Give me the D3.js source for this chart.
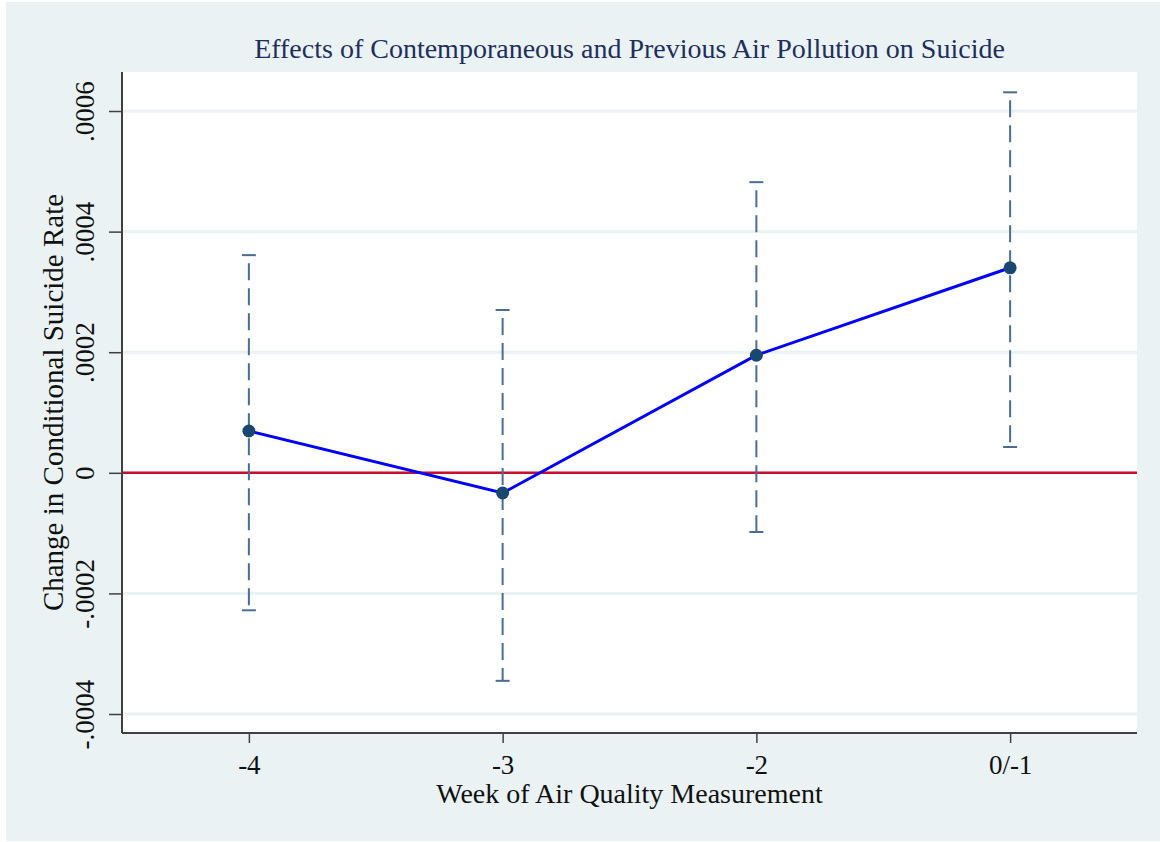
<!DOCTYPE html>
<html>
<head>
<meta charset="utf-8">
<script src="https://cdn.jsdelivr.net/npm/d3@7"></script>
<style>
  body { margin: 0; background: #fff; }
  text { font-family: "Liberation Serif", "Times New Roman", serif; }
</style>
</head>
<body>
<script>
var width = 1160;
var height = 842;

// Data.
var weeks = ['-4', '-3', '-2', '0/-1'];
var estimates = [0.0000693, -0.0000335, 0.000195, 0.00034];
var upper = [0.000361, 0.00027, 0.000482, 0.000631];
var lower = [-0.000228, -0.000345, -0.0000982, 0.0000428];
var yTicks = [-0.0004, -0.0002, 0, 0.0002, 0.0004, 0.0006];
var yTickLabels = ['-.0004', '-.0002', '0', '.0002', '.0004', '.0006'];

var margin = {top: 72, right: 23, bottom: 109, left: 122};
var plotW = width - margin.left - margin.right;
var plotH = height - margin.top - margin.bottom;

var svg = d3.select('body')
  .append('svg')
  .attr('width', width)
  .attr('height', height);

// Outer background.
svg.append('rect')
  .attr('x', 6).attr('y', 2)
  .attr('width', width - 6).attr('height', height - 3)
  .attr('fill', '#eaf2f3');

var g = svg.append('g')
  .attr('transform', 'translate(' + margin.left + ',' + margin.top + ')');

var x = d3.scaleLinear()
  .domain([-0.5, 3.5])
  .range([0, plotW]);

var y = d3.scaleLinear()
  .domain([-0.0004315, 0.0006647])
  .range([plotH, 0]);

// Plot region.
g.append('rect')
  .attr('width', plotW)
  .attr('height', plotH)
  .attr('fill', '#ffffff');

// Gridlines.
g.append('g')
  .selectAll('line')
  .data(yTicks)
  .enter().append('line')
  .attr('x1', 0).attr('x2', plotW)
  .attr('y1', function(d) { return y(d); })
  .attr('y2', function(d) { return y(d); })
  .attr('stroke', '#eaf2f3')
  .attr('stroke-width', 3);

// Zero line.
g.append('line')
  .attr('x1', 0).attr('x2', plotW)
  .attr('y1', y(0)).attr('y2', y(0))
  .attr('stroke', '#c8102e')
  .attr('stroke-width', 2.5);

// Axes.
var yAxis = d3.axisLeft(y)
  .tickValues(yTicks)
  .tickSize(13)
  .tickFormat(function(d, i) { return yTickLabels[i]; });

var xAxis = d3.axisBottom(x)
  .tickValues(d3.range(weeks.length))
  .tickSize(10)
  .tickPadding(12)
  .tickFormat(function(d) { return weeks[d]; });

var ya = g.append('g').call(yAxis);
ya.select('.domain')
  .attr('d', 'M0,0V' + plotH)
  .attr('stroke', '#404040')
  .attr('stroke-width', 2);
ya.selectAll('.tick line').attr('stroke', '#404040').attr('stroke-width', 1.5);
ya.selectAll('.tick text')
  .attr('font-size', 27)
  .attr('fill', '#111')
  .attr('font-family', '"Liberation Serif", serif')
  .attr('text-anchor', 'middle')
  .attr('dy', 0)
  .attr('transform', 'translate(-28,0) rotate(-90)')
  .attr('x', 0)
  .attr('y', 0);

var xa = g.append('g')
  .attr('transform', 'translate(0,' + plotH + ')')
  .call(xAxis);
xa.select('.domain')
  .attr('d', 'M0,0H' + plotW)
  .attr('stroke', '#404040')
  .attr('stroke-width', 2);
xa.selectAll('.tick line').attr('stroke', '#404040').attr('stroke-width', 1.5);
xa.selectAll('.tick text')
  .attr('font-size', 27)
  .attr('fill', '#111')
  .attr('font-family', '"Liberation Serif", serif');

// Error bars.
var bars = g.append('g');
bars.selectAll('.ci')
  .data(weeks)
  .enter().append('line')
  .attr('x1', function(d, i) { return x(i); })
  .attr('x2', function(d, i) { return x(i); })
  .attr('y1', function(d, i) { return y(upper[i]); })
  .attr('y2', function(d, i) { return y(lower[i]); })
  .attr('stroke', '#4a6d92')
  .attr('stroke-width', 2)
  .attr('stroke-dasharray', '17,8')
  .attr('stroke-dashoffset', -8);

[upper, lower].forEach(function(arr) {
  bars.selectAll(null)
    .data(weeks)
    .enter().append('line')
    .attr('x1', function(d, i) { return x(i) - 7; })
    .attr('x2', function(d, i) { return x(i) + 7; })
    .attr('y1', function(d, i) { return y(arr[i]); })
    .attr('y2', function(d, i) { return y(arr[i]); })
    .attr('stroke', '#4a6d92')
    .attr('stroke-width', 2);
});

// Point estimate line.
var line = d3.line()
  .x(function(d, i) { return x(i); })
  .y(function(d) { return y(d); });

g.append('path')
  .datum(estimates)
  .attr('d', line)
  .attr('fill', 'none')
  .attr('stroke', '#0000ff')
  .attr('stroke-width', 3);

g.append('g')
  .selectAll('circle')
  .data(estimates)
  .enter().append('circle')
  .attr('cx', function(d, i) { return x(i); })
  .attr('cy', function(d) { return y(d); })
  .attr('r', 6.5)
  .attr('fill', '#1a476f');

// Titles.
svg.append('text')
  .attr('x', margin.left + plotW / 2)
  .attr('y', 58)
  .attr('text-anchor', 'middle')
  .attr('font-size', 28)
  .attr('fill', '#1e2f5c')
  .text('Effects of Contemporaneous and Previous Air Pollution on Suicide');

svg.append('text')
  .attr('x', margin.left + plotW / 2)
  .attr('y', 803)
  .attr('text-anchor', 'middle')
  .attr('font-size', 28)
  .attr('fill', '#111')
  .text('Week of Air Quality Measurement');

svg.append('text')
  .attr('transform', 'translate(63,' + (margin.top + plotH / 2) + ') rotate(-90)')
  .attr('text-anchor', 'middle')
  .attr('font-size', 29)
  .attr('fill', '#111')
  .text('Change in Conditional Suicide Rate');
</script>
</body>
</html>
